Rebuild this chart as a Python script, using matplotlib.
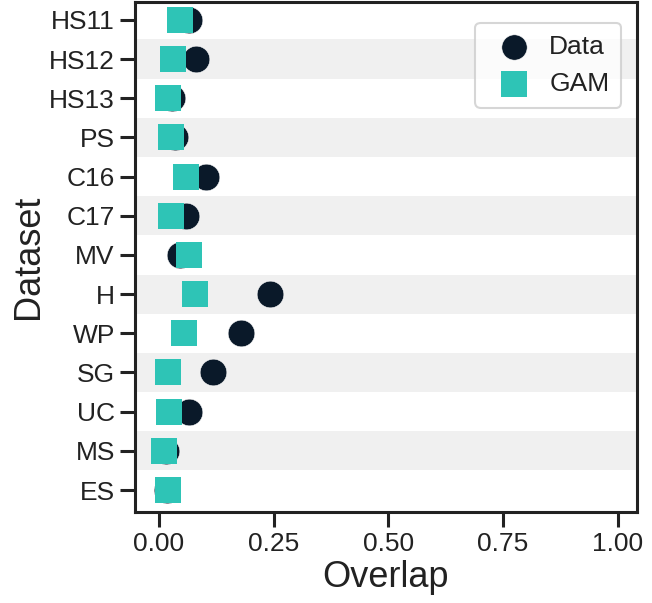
import matplotlib
matplotlib.use("Agg")
import matplotlib.pyplot as plt
import numpy as np

datasets = ["HS11", "HS12", "HS13", "PS", "C16", "C17", "MV", "H", "WP", "SG", "UC", "MS", "ES"]
data_overlap = [0.066, 0.080, 0.028, 0.035, 0.102, 0.060, 0.047, 0.243, 0.179, 0.118, 0.065, 0.015, 0.018]
gam_overlap = [0.046, 0.030, 0.020, 0.026, 0.059, 0.026, 0.065, 0.078, 0.055, 0.020, 0.023, 0.011, 0.020]
xticks = [0.0, 0.25, 0.5, 0.75, 1.0]

plt.rcParams['font.family'] = ['Liberation Sans', 'DejaVu Sans']

fig = plt.figure(figsize=(6.52, 6.03), dpi=100)
ax = fig.add_axes([0.207, 0.151, 0.770, 0.846])

y = np.arange(len(datasets))
for i in y:
    if i % 2 == 1:
        ax.axhspan(i - 0.5, i + 0.5, color="#f0f0f0", zorder=0, lw=0)

ax.scatter(data_overlap, y, s=370, marker="o", color="#0a1929", edgecolor="white",
           linewidth=0.4, label="Data", zorder=3)
ax.scatter(gam_overlap, y, s=370, marker="s", color="#2ec4b6", linewidth=0,
           label="GAM", zorder=4)

ax.set_yticks(y)
ax.set_yticklabels(datasets)
ax.set_ylim(len(datasets) - 0.44, -0.46)
ax.set_xlim(-0.052, 1.042)
ax.set_xticks(xticks)
ax.set_xticklabels([f"{v:.2f}" for v in xticks])

ax.set_xlabel("Overlap", fontsize=26, color="#222222", labelpad=3)
ax.set_ylabel("Dataset", fontsize=26, color="#222222", labelpad=2)
ax.tick_params(axis="both", labelsize=19, length=11, width=2.2, color="#222222", labelcolor="#222222")
for sp in ax.spines.values():
    sp.set_linewidth(2.2)
    sp.set_color("#222222")

leg = ax.legend(loc="upper right", fontsize=19, frameon=True, fancybox=True,
                borderpad=0.45, handletextpad=0.35, markerscale=0.95,
                bbox_to_anchor=(0.995, 0.985))
leg.get_frame().set_edgecolor("#cccccc")
leg.get_frame().set_linewidth(1.5)
for t in leg.get_texts():
    t.set_color("#222222")

fig.savefig("out.png", dpi=100)
